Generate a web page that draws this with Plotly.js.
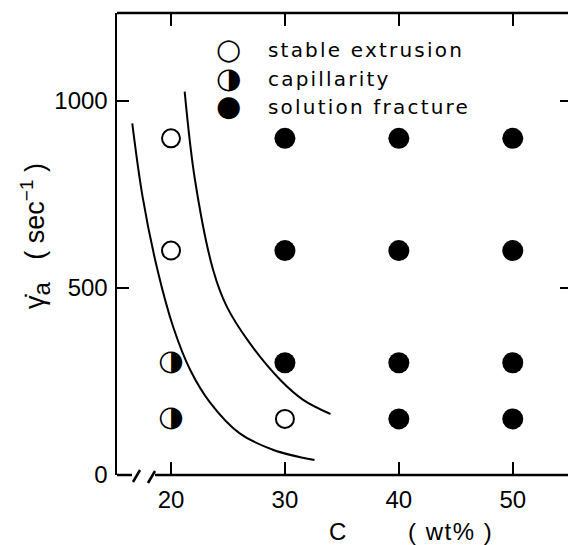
<!DOCTYPE html>
<html>
<head>
<meta charset="utf-8">
<script src="https://cdn.plot.ly/plotly-3.0.1.min.js"></script>
<style>
  html, body { margin: 0; padding: 0; overflow: hidden; background: #fff; }
  #chart { width: 580px; height: 545px; }
</style>
</head>
<body>
<div id="chart"></div>
<script>
// Extrusion regimes of the solution vs. concentration C and apparent shear rate
const xTicks = [20, 30, 40, 50];
const yTicks = [0, 500, 1000];

// stable extrusion (open circles)
const stableC = [20, 20, 30];
const stableRate = [900, 600, 150];

// capillarity (half-filled circles)
const capC = [20, 20];
const capRate = [300, 150];

// solution fracture (filled circles)
const fracC = [30, 40, 50, 30, 40, 50, 30, 40, 50, 40, 50];
const fracRate = [900, 900, 900, 600, 600, 600, 300, 300, 300, 150, 150];

// regime boundaries
const lowerC = [16.6, 17.5, 18.8, 20.2, 21.7, 23.4, 26.0, 29.0, 32.6];
const lowerRate = [940, 745, 550, 395, 280, 195, 112, 67, 40];
const upperC = [21.2, 22.1, 23.7, 24.9, 26.9, 29.6, 31.6, 34.0];
const upperRate = [1025, 790, 548, 450, 353, 254, 201, 163];

const legendItems = [
  {symbol: '\u25CB', label: 'stable extrusion'},
  {symbol: '\u25D1', label: 'capillarity'},
  {symbol: '\u25CF', label: 'solution fracture'}
];

const ink = '#000';
const tickFont = {family: 'Liberation Sans, Arial, sans-serif', size: 24, color: ink};
const glyphFont = {family: 'DejaVu Sans', size: 29, color: ink};

const traces = [
  {x: lowerC, y: lowerRate, mode: 'lines', line: {color: ink, width: 2, shape: 'spline'}, hoverinfo: 'skip'},
  {x: upperC, y: upperRate, mode: 'lines', line: {color: ink, width: 2, shape: 'spline'}, hoverinfo: 'skip'},
  {x: stableC, y: stableRate, mode: 'markers', name: 'stable extrusion',
   marker: {symbol: 'circle', size: 18, color: '#fff', line: {color: ink, width: 2}}},
  {x: fracC, y: fracRate, mode: 'markers', name: 'solution fracture',
   marker: {symbol: 'circle', size: 21, color: ink, line: {width: 0}}},
  {x: capC, y: capRate, mode: 'text', name: 'capillarity',
   text: capC.map(() => '\u25D1'), textposition: 'middle center', textfont: glyphFont}
];

// plot area geometry in pixels (for legend placement in paper units)
const W = 580, H = 545, mL = 117, mR = 8, mT = 13, mB = 70;
const pw = W - mL - mR, ph = H - mT - mB;
const px = v => (v - mL) / pw;
const py = v => (H - mB - v) / ph;

const annotations = [];
const rowY = [49, 78, 106];
legendItems.forEach((it, i) => {
  annotations.push({xref: 'paper', yref: 'paper', x: px(228), y: py(rowY[i]),
    text: it.symbol, showarrow: false, xanchor: 'center', yanchor: 'middle',
    font: glyphFont});
  annotations.push({xref: 'paper', yref: 'paper', x: px(266), y: py(rowY[i] + 1),
    text: '<span style="letter-spacing:2.2px">' + it.label + '</span>', showarrow: false,
    xanchor: 'left', yanchor: 'middle',
    font: {family: 'DejaVu Sans', size: 20, color: ink}});
});
// axis titles
const titleFont = {family: 'Liberation Sans, Arial, sans-serif', size: 24, color: ink};
annotations.push({xref: 'paper', yref: 'paper', x: px(337), y: py(531), text: 'C',
  showarrow: false, xanchor: 'center', yanchor: 'middle', font: titleFont});
annotations.push({xref: 'paper', yref: 'paper', x: px(450), y: py(531),
  text: '<span style="letter-spacing:1.5px">( wt% )</span>',
  showarrow: false, xanchor: 'center', yanchor: 'middle', font: titleFont});
annotations.push({xref: 'paper', yref: 'paper', x: px(35), y: py(236), textangle: -90,
  text: '\u03B3\u0307<sub><span style="font-size:24px">a</span></sub>\u00A0\u00A0\u00A0(\u00A0sec<sup>\u22121</sup>\u00A0)',
  showarrow: false, xanchor: 'center', yanchor: 'middle',
  font: {family: 'Liberation Sans, Arial, sans-serif', size: 27, color: ink}});

const axLine = {color: ink, width: 2.5};
const shapes = [
  // top frame
  {type: 'line', xref: 'paper', yref: 'paper', x0: 0, x1: 1, y0: 1, y1: 1, line: axLine},
  // broken bottom axis
  {type: 'line', xref: 'paper', yref: 'paper', x0: 0, x1: px(132), y0: 0, y1: 0, line: axLine},
  {type: 'line', xref: 'paper', yref: 'paper', ysizemode: 'pixel', yanchor: 0,
   x0: px(133), x1: px(140), y0: -7, y1: 5, line: axLine},
  {type: 'line', xref: 'paper', yref: 'paper', ysizemode: 'pixel', yanchor: 0,
   x0: px(148), x1: px(155), y0: -8, y1: 4, line: axLine},
  {type: 'line', xref: 'paper', yref: 'paper', x0: px(155), x1: 1, y0: 0, y1: 0, line: axLine}
];

const layout = {
  width: W, height: H,
  margin: {l: mL, r: mR, t: mT, b: mB},
  paper_bgcolor: '#fff', plot_bgcolor: '#fff',
  showlegend: false,
  xaxis: {range: [15.26, 55.2], tickvals: xTicks, ticktext: xTicks.map(String),
    ticks: 'inside', ticklen: 13, tickwidth: 2, tickcolor: ink, mirror: 'allticks',
    showline: false, showgrid: false, zeroline: false, tickfont: tickFont, ticklabelstandoff: 8},
  yaxis: {range: [0, 1235], tickvals: yTicks, ticktext: yTicks.map(String),
    ticks: 'inside', ticklen: 12, tickwidth: 2, tickcolor: ink, mirror: 'allticks',
    showline: true, linecolor: ink, linewidth: 2.5, showgrid: false, zeroline: false,
    tickfont: tickFont, ticklabelstandoff: 2},
  shapes: shapes,
  annotations: annotations
};

Plotly.newPlot('chart', traces, layout, {staticPlot: true, displayModeBar: false});
</script>
</body>
</html>
